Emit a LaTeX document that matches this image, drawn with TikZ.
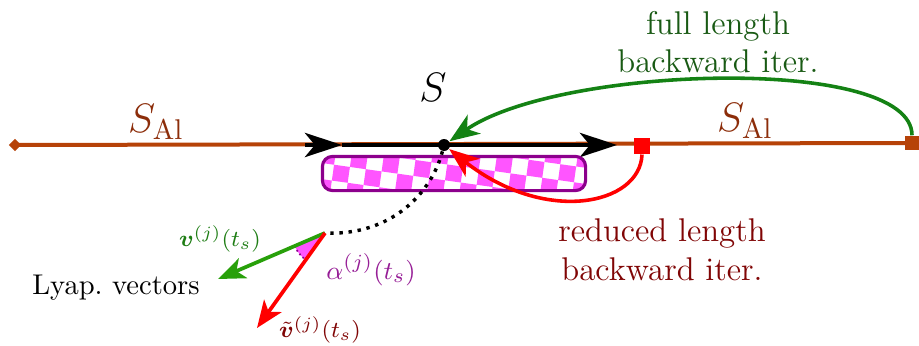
\documentclass[tikz,border=0pt]{standalone}
\usepackage{amsmath,bm}
\usetikzlibrary{arrows.meta,angles,calc}
\definecolor{brn}{RGB}{182,66,8}
\definecolor{brntxt}{RGB}{140,45,10}
\definecolor{gcurve}{RGB}{20,130,20}
\definecolor{gtxt}{RGB}{25,90,20}
\definecolor{gvec}{RGB}{40,160,10}
\definecolor{gvtxt}{RGB}{30,125,20}
\definecolor{rtxt}{RGB}{128,5,5}
\definecolor{purp}{RGB}{140,0,140}
\definecolor{atxt}{RGB}{150,30,150}
\definecolor{mag}{RGB}{255,85,255}
\tikzset{
  lbl/.style={font=\fontsize{11.5}{13.5}\selectfont, align=center, inner sep=0pt},
  vlbl/.style={font=\fontsize{8.5}{10}\selectfont, inner sep=1pt},
  brnline/.style={draw=brn, line width=1.4pt},
  blkline/.style={draw=black, line width=1.4pt, -{Stealth[length=13pt,width=8.5pt,inset=3.5pt]}},
  bigtipg/.style={-{Stealth[length=10.5pt,width=8pt,inset=3pt]}},
  vectip/.style={-{Stealth[length=9.5pt,width=7.5pt,inset=2.5pt]}},
  endsq/.style={rectangle, fill=#1, inner sep=0pt, minimum size=5pt},
}
\begin{document}
\begin{tikzpicture}[x=0.35pt,y=-0.35pt]
\useasboundingbox (0,0) rectangle (919,345);
% end markers
\node[rectangle, fill=brn, inner sep=0pt, minimum size=3pt, rotate=45] (L) at (15,145) {};
\node[endsq=brn] (R) at (912,143) {};
\coordinate (b0) at (305,145);
\coordinate (b1) at (342,145);
\coordinate (b2) at (617,145);
\draw[brnline] (L.center) -- (R.center);
% black orbit segment
\draw[blkline] (b0) -- (b1);
\draw[blkline] (b1) -- (b2);
\node[endsq=red, minimum size=5.6pt] (Q) at (642,146) {};
% checkered box
\node[draw=none, minimum width=262*0.35pt, minimum height=33*0.35pt, inner sep=0pt] (box) at (454,173.5) {};
\begin{scope}
  \clip[rounded corners=3.5pt] (box.north west) rectangle (box.south east);
  \begin{scope}[shift={(454,173.5)}, rotate=-8]
    \foreach \i in {-10,...,10}{
      \foreach \j in {-3,...,3}{
        \pgfmathtruncatemacro\chk{mod(\i+\j+100,2)}
        \ifnum\chk=0
          \fill[mag] ({\i*16-8},{\j*16-8}) rectangle ++(16,16);
        \fi
      }
    }
  \end{scope}
\end{scope}
\draw[purp, line width=1.1pt, rounded corners=3.5pt] (box.north west) rectangle (box.south east);
% dot S
\node[circle, fill=black, inner sep=0pt, minimum size=4.2pt] (S) at (444,145) {};
% labels
\node[font=\Large] (Slbl) at (433,87) {$S$};
\node[font=\Large, text=brntxt] (SAl1) at (156,122) {$S_{\mathrm{Al}}$};
\node[font=\Large, text=brntxt] (SAl2) at (745,121) {$S_{\mathrm{Al}}$};
\node[lbl, text=gtxt] (full) at (718,42) {full length\\backward iter.};
\node[lbl, text=rtxt] (red) at (662,250) {reduced length\\backward iter.};
% backward iteration curves
\draw[gcurve, line width=1.25pt, bigtipg] (R.north) .. controls (912,55) and (560,65) .. (S);
\draw[red, line width=1.25pt, bigtipg] (Q.south) .. controls (640,205) and (545,225) .. (S);
% dotted curve
\coordinate (O) at (325,233);
\draw[black, line width=1.2pt, dotted] (S) .. controls (432,192) and (392,236) .. (O);
% Lyapunov vectors
\coordinate (gv) at (218,279);
\coordinate (rv) at (257,328);
\pic[fill=mag, draw=purp, densely dotted, line width=0.6pt, angle radius=33*0.35pt] {angle = gv--O--rv};
\draw[gvec, line width=1.3pt, vectip] (O) -- (gv);
\draw[red, line width=1.3pt, vectip] (O) -- (rv);
\node[vlbl, text=gvtxt] (vl) at (220,239) {$\bm{v}^{(j)}(t_s)$};
\node[font=\fontsize{9.5}{11}\selectfont, text=atxt] (al) at (371,270) {$\alpha^{(j)}(t_s)$};
\node (lyap) at (116,288) {Lyap.\ vectors};
\node[vlbl, text=rtxt] (vtl) at (320,330) {$\tilde{\bm{v}}^{(j)}(t_s)$};
\end{tikzpicture}
\end{document}
